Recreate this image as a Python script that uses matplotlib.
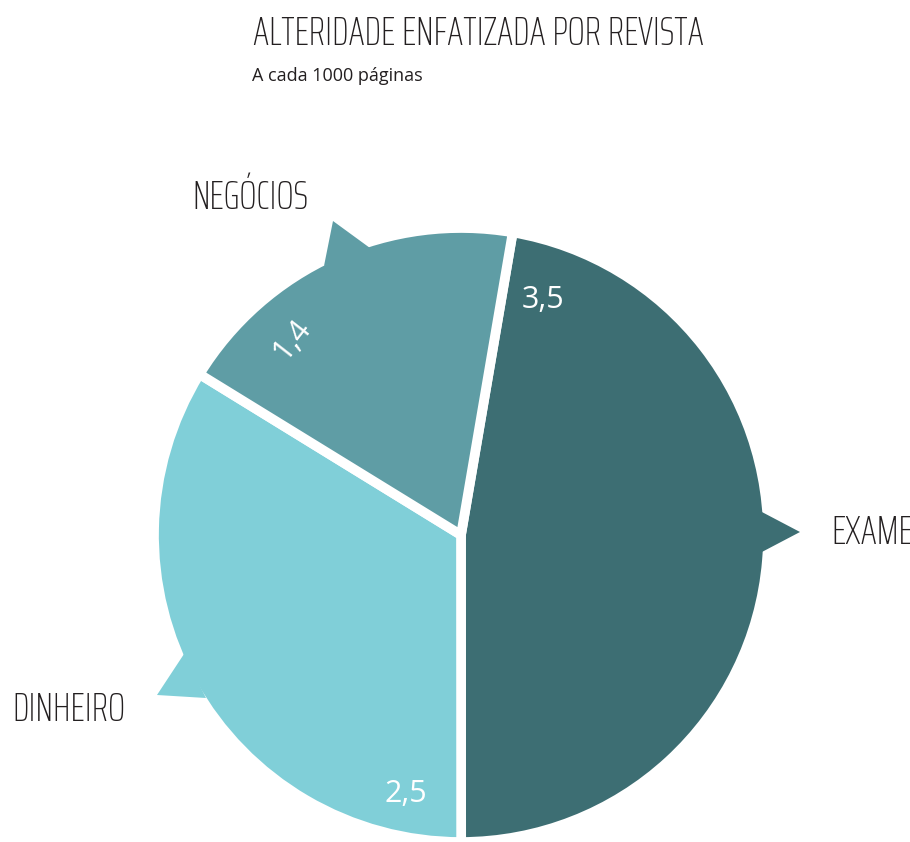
import matplotlib
matplotlib.use('Agg')
from matplotlib import pyplot
from matplotlib.patches import Polygon

labels = ['EXAME', 'DINHEIRO', 'NEGÓCIOS']
values = [3.5, 2.5, 1.4]
value_labels = ['3,5', '2,5', '1,4']
colors = ['#3d6e73', '#80cfd8', '#5f9da5']

H = 842
fig = pyplot.figure(figsize=(9.1, 8.42), dpi=100)
ax = fig.add_axes([0, 0, 1, 1])

cx, cy, r = 461, H - 535, 307
wedges, _ = ax.pie(values, colors=colors, startangle=80.3, counterclock=False,
                   center=(cx, cy), radius=r,
                   wedgeprops=dict(edgecolor='white', linewidth=7))

# little callout pointers on the rim
pointers = [
    ([(760, 511), (800, 532), (760, 553)], colors[0]),
    ([(184, 654), (157, 695), (206, 698)], colors[1]),
    ([(324, 266), (333, 221), (370, 248)], colors[2]),
]
for pts, c in pointers:
    ax.add_patch(Polygon([(x, H - y) for x, y in pts], closed=True, color=c, lw=0))

ax.set_xlim(0, 910)
ax.set_ylim(0, H)
ax.set_aspect('auto')
ax.axis('off')

cond = ['Saira ExtraCondensed', 'DejaVu Sans']
dark = '#231f20'
fig.text(253 / 910, 1 - 45 / H, 'ALTERIDADE ENFATIZADA POR REVISTA', family=cond,
         fontsize=29, weight='light', color=dark, ha='left', va='baseline')
fig.text(252 / 910, 1 - 81 / H, 'A cada 1000 páginas', family='Open Sans',
         fontsize=13, color=dark, ha='left', va='baseline')

ax.text(192, H - 209, labels[2], family=cond, fontsize=29, weight='light', color=dark,
        va='baseline')
ax.text(831, H - 544, labels[0], family=cond, fontsize=29, weight='light', color=dark,
        va='baseline')
ax.text(12, H - 721, labels[1], family=cond, fontsize=29, weight='light', color=dark,
        va='baseline')

ax.text(543, H - 300, value_labels[0], family='Open Sans', fontsize=22, color='white',
        ha='center', va='center')
ax.text(406, H - 794, value_labels[1], family='Open Sans', fontsize=22, color='white',
        ha='center', va='center')
ax.text(292, H - 340, value_labels[2], family='Open Sans', fontsize=22, color='white',
        ha='center', va='center', rotation=52)

pyplot.savefig('out.png', dpi=100)
